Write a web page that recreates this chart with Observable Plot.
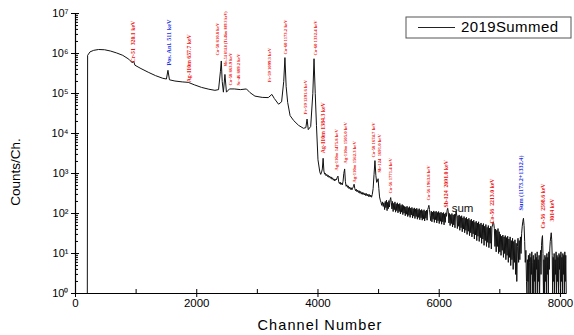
<!DOCTYPE html>
<html><head><meta charset="utf-8">
<script src="https://cdn.jsdelivr.net/npm/d3@7"></script>
<script src="https://cdn.jsdelivr.net/npm/@observablehq/plot@0.6"></script>
<style>body{margin:0;background:#fff} svg{display:block}</style>
</head><body><div id="chart"></div><script>
// ---- spectrum data: [channel, counts per channel] ----
const lowRegion = [
  [195,1],[200,9.0e5],[240,1.1e6],[300,1.2e6],[380,1.26e6],[480,1.24e6],[580,1.15e6],[680,1.03e6],
  [780,9.0e5],[880,7.2e5],[940,5.8e5],[960,6.4e5],[980,5.1e5],[1080,4.2e5],[1200,3.4e5],[1320,2.8e5],
  [1440,2.4e5],[1500,2.3e5],[1525,3.8e5],[1550,2.2e5],[1640,2.05e5],[1760,1.95e5],[1860,1.9e5],
  [1960,1.65e5],[2080,1.42e5],[2200,1.28e5],[2300,1.2e5],[2360,1.25e5],[2390,3.5e5],[2405,6.5e5],
  [2420,2.0e5],[2440,1.08e5],[2465,3.0e5],[2490,1.08e5],[2540,1.3e5],[2620,1.3e5],[2720,1.25e5],
  [2820,1.3e5],[2880,1.05e5],[2960,8.6e4],[3080,8.0e4],[3180,7.9e4],[3240,9.5e4],[3280,7.5e4],
  [3350,5.4e4],[3400,6.2e4],[3435,2.0e5],[3455,7.9e5],[3475,1.5e5],[3500,6.0e4],[3540,2.8e4],
  [3600,2.1e4],[3680,1.6e4],[3760,1.35e4],[3800,1.4e4],[3820,2.3e4],[3840,1.25e4],[3880,1.5e4],
  [3915,1.0e5],[3935,7.4e5],[3955,1.0e5],[3975,1.6e4],[4000,2.2e3],[4030,1.1e3]
];
const midRegion = [
  [4045,950],[4060,1080],[4072,1300],[4085,2400],[4098,1150],[4110,960],[4122,1010],[4134,880],
  [4146,950],[4158,840],[4170,900],[4182,800],[4194,860],[4206,760],[4218,820],[4230,720],[4242,780],
  [4254,680],[4266,730],[4278,650],[4290,720],[4302,690],[4315,780],[4330,860],[4342,620],[4354,560],
  [4366,610],[4378,530],[4390,580],[4402,520],[4414,640],[4426,1000],[4440,1300],[4452,640],[4464,480],
  [4476,520],[4488,450],[4500,490],[4512,420],[4524,460],[4536,400],[4548,440],[4560,390],[4572,430],
  [4584,470],[4596,540],[4608,420],[4620,370],[4632,405],[4644,350],[4656,385],[4668,335],[4680,370],
  [4692,320],[4704,355],[4716,305],[4728,340],[4740,300],[4752,330],[4764,290],[4776,320],[4788,280],
  [4800,315],[4812,275],[4824,305],[4836,265],[4848,298],[4860,260],[4872,290],[4884,255],[4896,300],
  [4910,420],[4925,950],[4940,2100],[4955,900],[4968,600],[4980,640],[4992,740],[5004,420],[5016,260],
  [5028,215],[5040,190],[5052,160],[5064,195],[5076,150],[5088,185]
];
const tailRegion = [
  [5100,125],[5110,200],[5120,140],[5130,215],[5140,118],[5150,190],[5160,132],[5170,210],[5180,145],[5190,220],
  [5200,250],[5210,190],[5220,130],[5230,200],[5240,112],[5250,180],[5260,125],[5270,195],[5280,108],[5290,175],
  [5300,118],[5310,185],[5320,104],[5330,170],[5340,112],[5350,178],[5360,98],[5370,160],[5380,108],[5390,168],
  [5400,94],[5410,158],[5420,102],[5430,150],[5440,88],[5450,146],[5460,96],[5470,152],[5480,84],[5490,140],
  [5500,90],[5510,148],[5520,80],[5530,136],[5540,92],[5550,142],[5560,77],[5570,132],[5580,86],[5590,138],
  [5600,75],[5610,130],[5620,84],[5630,135],[5640,72],[5650,125],[5660,80],[5670,132],[5680,70],[5690,120],
  [5700,78],[5710,126],[5720,68],[5730,118],[5740,74],[5750,124],[5760,65],[5770,115],[5780,76],[5790,122],
  [5800,68],[5810,125],[5820,140],[5830,160],[5840,125],[5850,90],[5860,66],[5870,114],[5880,62],[5890,108],
  [5900,72],[5910,116],[5920,60],[5930,110],[5940,70],[5950,114],[5960,58],[5970,106],[5980,66],[5990,112],
  [6000,56],[6010,104],[6020,64],[6030,108],[6040,54],[6050,102],[6060,62],[6070,106],[6080,52],[6090,98],
  [6100,60],[6110,104],[6120,85],[6130,120],[6140,135],[6150,110],[6160,58],[6170,100],[6180,50],[6190,94],
  [6200,56],[6210,100],[6220,46],[6230,92],[6240,52],[6250,96],[6260,44],[6270,100],[6280,118],[6290,86],
  [6300,42],[6310,88],[6320,48],[6330,92],[6340,38],[6350,84],[6360,44],[6370,88],[6380,35],[6390,78],
  [6400,41],[6410,84],[6420,33],[6430,76],[6440,38],[6450,80],[6460,30],[6470,72],[6480,36],[6490,76],
  [6500,28],[6510,68],[6520,33],[6530,72],[6540,26],[6550,64],[6560,31],[6570,68],[6580,23],[6590,60],
  [6600,29],[6610,64],[6620,21],[6630,58],[6640,27],[6650,62],[6660,20],[6670,54],[6680,25],[6690,58],
  [6700,18],[6710,52],[6720,23],[6730,56],[6740,16],[6750,48],[6760,21],[6770,53],[6780,15],[6790,45],
  [6800,19],[6810,50],[6820,14],[6830,43],[6840,18],[6850,48],[6860,13],[6870,45],[6880,52],[6890,62],
  [6900,56],[6910,42],[6920,15],[6930,41],[6940,11],[6950,38],[6960,15],[6970,42],[6980,10],[6990,35],
  [7000,11],[7010,30],[7020,9],[7030,27],[7040,12],[7050,29],[7060,8],[7070,26],[7080,10],[7090,28],
  [7100,7],[7110,25],[7120,9],[7130,27],[7140,6],[7150,23],[7160,8],[7170,26],[7180,5],[7190,21],
  [7200,7],[7210,24],[7220,4],[7230,20],[7240,6],[7250,22],[7260,3],[7270,18],[7280,2],[7290,15],
  [7300,24],[7310,6],[7320,21],[7330,7],[7340,26],[7350,10],[7360,32],[7370,48],[7380,64],[7390,76],
  [7400,50],[7410,20],[7420,6],[7430,12],[7440,2]
];
const endRegion = [
  [7448,1],[7456,7],[7464,2],[7472,9],[7480,1],[7488,6],[7496,10],[7504,1],[7512,8],[7520,3],[7528,11],
  [7536,1],[7544,6],[7552,9],[7560,1],[7568,7],[7576,2],[7584,10],[7592,1],[7600,8],[7608,4],[7616,11],
  [7624,1],[7632,7],[7640,2],[7648,9],[7656,1],[7664,6],[7672,12],[7680,3],[7688,16],[7696,24],[7704,28],
  [7712,10],[7720,1],[7728,7],[7736,1],[7744,9],[7752,2],[7760,8],[7768,1],[7776,10],[7784,3],[7792,8],
  [7800,1],[7808,11],[7816,4],[7824,13],[7832,20],[7840,26],[7848,33],[7856,22],[7864,9],[7872,1],
  [7880,8],[7888,2],[7896,10],[7904,1],[7912,7],[7920,3],[7928,11],[7936,1],[7944,9],[7952,2],[7960,8],
  [7968,1],[7976,10],[7984,4],[7992,9],[8000,1],[8008,11],[8016,2],[8024,8],[8032,1],[8040,10],[8048,3],
  [8056,9],[8064,1],[8072,11],[8080,2],[8088,9],[8096,1]
];

// ---- peak annotations: text, channel, count level where the text starts ----
const redLargeLabels = ["Cr-51  320.1 keV","Ag-110m 657.7 keV","Ag-110m 1384.3 keV","Sb-124  2091.0 keV","Co-56  2213.0 keV","Co-56  2598.6 keV","3014 keV"];
const redLargeCh     = [957, 1880, 4092, 6122, 6880, 7722, 7870];
const redLargeAt     = [5.96e5, 1.9e5, 3.2e3, 141, 56, 42, 63];

const redSmallLabels = ["Co-58 810.8 keV","Co-58 863.9 keV","Sc-46 889.2 keV","Fe-59 1099.3 keV","Co-60 1173.2 keV","Co-60 1332.4 keV","Fe-59 1291.6 keV","Ag-110m 1475.8 keV","Ag-110m 1505.0 keV","Ag-110m 1562.3 keV","Co-58 1674.7 keV","Sb-124  1691.0 keV","Co-56 1771.4 keV","Co-56 1963.8 keV"];
const redSmallCh     = [2343, 2560, 2690, 3200, 3465, 3960, 3795, 4307, 4455, 4604, 4917, 5016, 5198, 5825];
const redSmallAt     = [8.9e5, 1.58e5, 1.58e5, 1.9e5, 9.4e5, 8.9e5, 3.0e4, 1.19e3, 1.78e3, 596, 2.5e3, 1.06e3, 316, 211];

const redTinyLabels  = ["Mn-54 834.8 (Ti-46m 889.3 keV)"];
const redTinyCh      = [2475];
const redTinyAt      = [4.7e5];

const blueLabels     = ["Pos. Anl. 511 keV","Sum (1173.2+1332.4)"];
const blueCh         = [1535, 7343];
const blueAt         = [5.0e5, 119];

const sumLabel = ["sum"], sumCh = [6385], sumAt = [133];

// ---- axes ----
const xMajor = [0, 2000, 4000, 6000, 8000];
const xMinor = [1000, 3000, 5000, 7000];
const yMajor = [1, 10, 100, 1e3, 1e4, 1e5, 1e6, 1e7];
const yMinorMult = [2,3,4,5,6,7,8,9];
const seriesName = "2019Summed";

const spectrum = [...lowRegion, ...midRegion, ...tailRegion, ...endRegion].map(([ch, n]) => ({ch, n}));
const yMinor = yMajor.slice(0, -1).flatMap(d => yMinorMult.map(m => d * m));
const mk = (labels, chs, ats) => labels.map((t, i) => ({t, ch: chs[i], n: ats[i]}));
const sup = "⁰¹²³⁴⁵⁶⁷⁸⁹";
const fmtPow = d => "10" + String(Math.round(Math.log10(d))).split("").map(c => sup[+c]).join("");

const serif = "'Liberation Serif','Times New Roman',serif";
const sans = "'Liberation Sans',Arial,sans-serif";
const annot = (data, size, color) => Plot.text(data, {x: "ch", y: "n", text: "t", rotate: -90, textAnchor: "start",
  fontSize: size, fontFamily: serif, fontWeight: "bold", fill: color});

const chart = Plot.plot({
  width: 574, height: 335, marginLeft: 75, marginRight: 8, marginTop: 13, marginBottom: 42,
  style: {background: "#fff", fontFamily: sans, overflow: "visible", color: "#000"},
  x: {domain: [0, 8100]},
  y: {type: "log", domain: [1, 1e7]},
  marks: [
    Plot.line(spectrum, {x: "ch", y: "n", stroke: "#111", strokeWidth: 1}),
    Plot.ruleX([0], {stroke: "#000", strokeWidth: 1.2}),
    Plot.ruleY([1], {stroke: "#000", strokeWidth: 1.2}),
    Plot.axisX({ticks: xMajor, tickSize: 8, dy: -4, tickFormat: () => "", label: null}),
    Plot.axisX({ticks: xMinor, tickSize: 4, dy: -4, tickFormat: () => "", label: null}),
    Plot.axisX({ticks: xMajor, tickSize: 0, tickPadding: 5, fontSize: 11.5, label: null, tickFormat: d => String(d)}),
    Plot.axisY({ticks: yMajor, tickSize: 8, dx: 4, tickFormat: () => "", label: null}),
    Plot.axisY({ticks: yMinor, tickSize: 3, dx: 3, tickFormat: () => "", label: null}),
    Plot.axisY({ticks: yMajor, tickSize: 0, tickPadding: 7, fontSize: 11, label: null, tickFormat: fmtPow}),
    annot(mk(redLargeLabels, redLargeCh, redLargeAt), 5.8, "#ee1111"),
    annot(mk(redSmallLabels, redSmallCh, redSmallAt), 4.7, "#ee1111"),
    annot(mk(redTinyLabels, redTinyCh, redTinyAt), 4.0, "#ee1111"),
    annot(mk(blueLabels, blueCh, blueAt), 6.2, "#1f2fe0"),
    Plot.text(mk(sumLabel, sumCh, sumAt), {x: "ch", y: "n", text: "t", fontSize: 11.5, fontFamily: sans, fill: "#111"})
  ]
});

const svg = d3.select(chart);
// axis titles
svg.append("text").attr("transform", "translate(16,172) rotate(-90)").attr("text-anchor", "middle")
  .attr("dominant-baseline", "middle").attr("font-family", sans).attr("font-size", 13.5).text("Counts/Ch.");
svg.append("text").attr("x", 320).attr("y", 326).attr("text-anchor", "middle")
  .attr("dominant-baseline", "middle").attr("font-family", sans).attr("font-size", 14.5)
  .attr("letter-spacing", "1.1px").text("Channel Number");
// legend
const lg = svg.append("g");
lg.append("rect").attr("x", 406).attr("y", 17).attr("width", 165).attr("height", 21)
  .attr("fill", "#fff").attr("stroke", "#555").attr("stroke-width", 1);
lg.append("line").attr("x1", 418).attr("x2", 455).attr("y1", 27.5).attr("y2", 27.5).attr("stroke", "#222");
lg.append("text").attr("x", 461).attr("y", 28).attr("text-anchor", "start").attr("dominant-baseline", "middle")
  .attr("font-family", sans).attr("font-size", 15).attr("letter-spacing", "0.4px").text(seriesName);

document.getElementById("chart").appendChild(chart);
</script></body></html>
